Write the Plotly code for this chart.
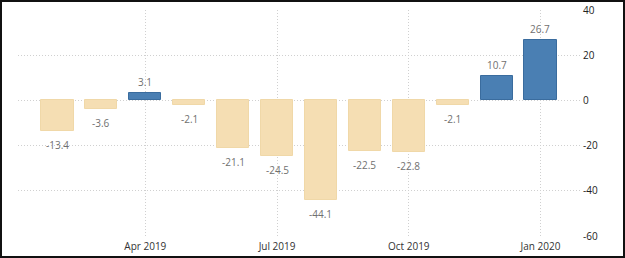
import plotly.graph_objects as go

months = ["2019-02", "2019-03", "2019-04", "2019-05", "2019-06", "2019-07",
          "2019-08", "2019-09", "2019-10", "2019-11", "2019-12", "2020-01"]
values = [-13.4, -3.6, 3.1, -2.1, -21.1, -24.5, -44.1, -22.5, -22.8, -2.1, 10.7, 26.7]
tick_months = ["2019-04", "2019-07", "2019-10", "2020-01"]
tick_labels = ["Apr 2019", "Jul 2019", "Oct 2019", "Jan 2020"]
y_ticks = [40, 20, 0, -20, -40, -60]

W, H = 625, 258
L, R, T, B = 18, 45, 10, 22

xs = list(range(len(months)))
pos_color, pos_line = "#4a7fb3", "#3a6c9e"
neg_color, neg_line = "#f5deb3", "#f0d8a8"
colors = [pos_color if v >= 0 else neg_color for v in values]
lines = [pos_line if v >= 0 else neg_line for v in values]

FONT = "Open Sans"

fig = go.Figure()
fig.add_trace(go.Bar(
    x=xs, y=values, width=0.73,
    marker=dict(color=colors, line=dict(color=lines, width=1)),
    hoverinfo="skip",
))

for x, v in zip(xs, values):
    fig.add_annotation(
        x=x, y=v, text=f"{v:.1f}", showarrow=False,
        yshift=11 if v >= 0 else -14, yanchor="middle",
        font=dict(family=FONT, size=10, color="#707070"),
    )

tick_idx = [months.index(m) for m in tick_months]

fig.update_layout(
    width=W, height=H,
    margin=dict(l=L, r=R, t=T, b=B, autoexpand=False),
    paper_bgcolor="white", plot_bgcolor="white",
    showlegend=False,
    bargap=0,
    xaxis=dict(
        range=[-0.9, 11.9],
        tickmode="array", tickvals=tick_idx, ticktext=tick_labels,
        showgrid=True, gridcolor="#d0d0d0", griddash="1px,2px", gridwidth=1,
        zeroline=False, showline=False, ticks="",
        tickfont=dict(family=FONT, size=10, color="#333333"),
        ticklabelstandoff=3,
        automargin=False, fixedrange=True,
    ),
    yaxis=dict(
        range=[-60, 40], side="right",
        tickmode="array", tickvals=y_ticks, ticktext=[str(t) for t in y_ticks],
        showgrid=True, gridcolor="#d0d0d0", griddash="1px,2px", gridwidth=1,
        zeroline=False, showline=False, ticks="",
        tickfont=dict(family=FONT, size=10, color="#222222"),
        ticklabelstandoff=2,
        automargin=False, fixedrange=True,
    ),
)

pw = W - L - R
ph = H - T - B
fig.add_shape(
    type="rect", xref="paper", yref="paper",
    x0=(-L + 1) / pw, x1=(pw + R - 1) / pw,
    y0=(-B + 1) / ph, y1=(ph + T - 1) / ph,
    line=dict(color="#111111", width=2), fillcolor="rgba(0,0,0,0)",
    layer="above",
)

fig.write_html("out.html", config={"displayModeBar": False})
